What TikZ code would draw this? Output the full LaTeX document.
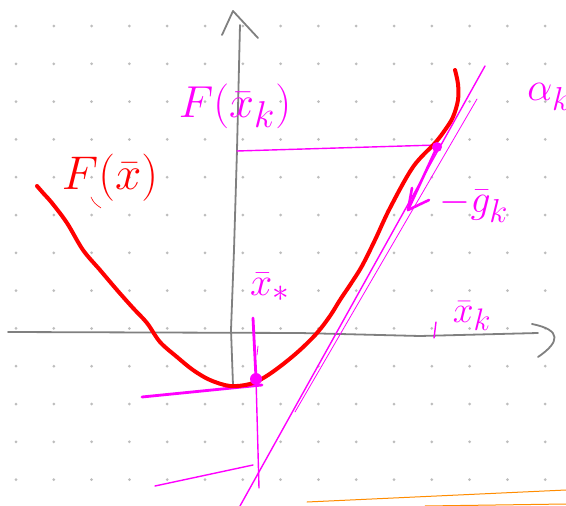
\documentclass[tikz,border=0pt]{standalone}
\usepackage{amsmath}
\definecolor{mag}{HTML}{FF00FF}
\definecolor{redc}{HTML}{FF0000}
\definecolor{axisc}{HTML}{808080}
\definecolor{dotc}{HTML}{BDBDBD}
\definecolor{orangec}{HTML}{FF8C00}
\tikzset{
  axisline/.style={draw=axisc, line width=1.8pt},
  curve/.style={draw=redc, line width=4pt},
  magline/.style={draw=mag, line width=1.4pt},
  magthick/.style={draw=mag, line width=2.8pt},
  magthin/.style={draw=mag, line width=0.8pt},
  maglabel/.style={text=mag, font=\Huge, inner sep=0pt},
  redlabel/.style={text=redc, font=\Huge, inner sep=0pt},
  orangeline/.style={draw=orangec, line width=1pt}
}
\begin{document}
\begin{tikzpicture}[x=1pt,y=-1pt,line cap=round,line join=round]
\useasboundingbox (0,0) rectangle (566,506);
\fill[white] (0,0) rectangle (566,506);
% dot grid
\foreach \i in {0,...,14}{
  \foreach \j in {0,...,12}{
    \fill[dotc] ({16+37.8*\i},{26+37.8*\j}) circle (1.5pt);
  }
}
% axes
\draw[axisline] (8,332) -- (300,333) -- (420,336) -- (538,333);
\draw[axisline] (532,324) .. controls (562,330) and (560,342) .. (538,357);
\draw[axisline] (233,385) -- (231,330) -- (234,250) -- (237,150) -- (240,25);
\draw[axisline] (222,35) -- (233,11) -- (258,38);
% orange strokes
\draw[orangeline] (307,502) -- (566,490);
\draw[orangeline] (425,506) -- (566,504);
% magenta construction lines
\draw[magline] (237,151) -- (437,145);
\draw[magline] (240,506) -- (485,66);
\draw[magthin] (477,99) -- (295,412);
\draw[magline] (155,486) -- (253,465);
\draw[magthick] (142,397) -- (262,385);
\draw[magthick] (253,318) -- (256,378);
\draw[magline] (256,378) -- (259,488);
\draw[magthin] (258,346) -- (257,355);
\draw[magline] (436,322) -- (434,338);
% red curve F(x)
\draw[curve] plot[smooth,tension=0.55] coordinates {
  (37,186) (44,194) (52,203) (67,223) (83,250) (100,270) (117,290)
  (133,308) (147,323) (160,342) (177,357) (193,370) (210,380) (230,386)
  (250,384) (265,377) (282,365) (300,350) (317,333) (330,316) (340,300)
  (352,282) (362,266) (375,240) (390,208) (413,167) (435,143) (445,130)
  (453,117) (458,100) (458,84) (455,70)};
\draw[draw=redc, line width=0.6pt] (91,197) .. controls (94,203) .. (101,208);
% points
\fill[mag] (437,147) circle (5pt);
\fill[mag] (256,379) circle (6pt);
% -g_k arrow
\draw[draw=mag, line width=2.6pt] (437,147) -- (408,210);
\draw[draw=mag, line width=2.6pt] (412,188) -- (408,210) -- (429,200);
% labels
\node[redlabel, scale=1.9] (lblF) at (110,178) {$F(\bar x)$};
\node[maglabel, scale=1.8] (lblFk) at (235,106) {$F(\bar x_k)$};
\node[maglabel, scale=1.6] (lblg) at (474,206) {$-\bar g_k$};
\node[maglabel, scale=1.6] (lblxs) at (270,287) {$\bar x_*$};
\node[maglabel, scale=1.5] (lblxk) at (472,316) {$\bar x_k$};
\node[maglabel, scale=1.6, anchor=west] (lblal) at (527,97) {$\alpha_k$};
\end{tikzpicture}
\end{document}
